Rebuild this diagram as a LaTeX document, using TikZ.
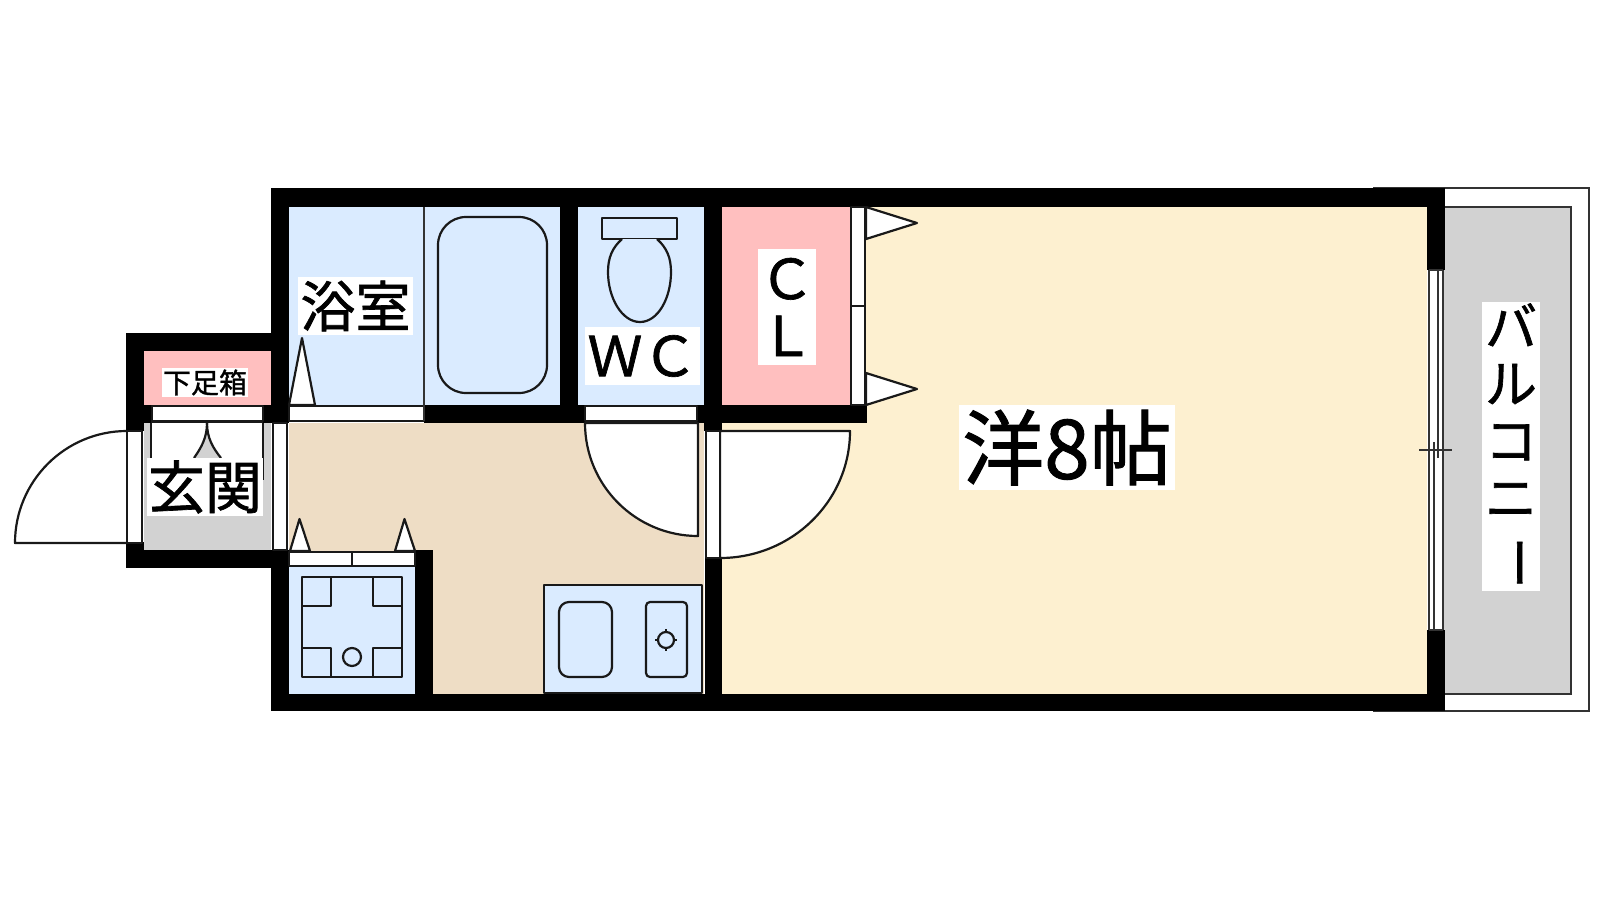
\documentclass[tikz,border=0pt]{standalone}
\usepackage{fontspec}
\setmainfont{Noto Sans CJK JP}[FakeBold=1.2]
\definecolor{bluef}{HTML}{DAEBFF}
\definecolor{pinkf}{HTML}{FFBFBF}
\definecolor{yellowf}{HTML}{FDF0D0}
\definecolor{tanf}{HTML}{EEDDC5}
\definecolor{grayf}{HTML}{D2D2D2}
\tikzset{
  wall/.style={fill=black,draw=none},
  ln/.style={draw=black!90,line width=2.2pt,line join=round},
  thin ln/.style={draw=black!80,line width=1.6pt},
  whitepart/.style={ln,fill=white},
  equip/.style={ln,fill=bluef},
  tag/.style={fill=white,inner sep=0pt,align=center,text=black}
}
\begin{document}
\begin{tikzpicture}[x=1pt,y=-1pt]
\useasboundingbox (0,0) rectangle (1600,900);
\fill[white] (0,0) rectangle (1600,900);
% floors
\fill[yellowf] (720,207) rectangle (1427,694);
\fill[bluef] (289,207) rectangle (560,405);
\fill[bluef] (578,207) rectangle (704,405);
\fill[pinkf] (722,207) rectangle (851,405);
\fill[pinkf] (144,351) rectangle (271,405);
\fill[tanf] (289,423) rectangle (704,694);
\fill[bluef] (289,566) rectangle (415,694);
\fill[grayf] (144,423) rectangle (271,550);
\fill[white] (151,423) rectangle (263,460);
\fill[grayf] (207,423) .. controls (207,438) and (201,448) .. (194,458) -- (221,458) .. controls (213,448) and (207,438) .. (207,423);
% balcony
\draw[thin ln] (1373,188) -- (1589,188) -- (1589,711) -- (1373,711);
\fill[grayf] (1444,207) rectangle (1571,694);
\draw[thin ln] (1444,207) -- (1571,207) -- (1571,694) -- (1444,694);
% walls
\fill[wall] (271,188) rectangle (1445,207);
\fill[wall] (271,694) rectangle (1445,711);
\fill[wall] (271,188) rectangle (289,423);
\fill[wall] (126,333) rectangle (289,351);
\fill[wall] (126,333) rectangle (144,431);
\fill[wall] (126,405) rectangle (152,423);
\fill[wall] (263,405) rectangle (289,423);
\fill[wall] (126,542) rectangle (144,568);
\fill[wall] (126,550) rectangle (289,568);
\fill[wall] (271,550) rectangle (289,711);
\fill[wall] (415,550) rectangle (433,711);
\fill[wall] (424,405) rectangle (867,423);
\fill[wall] (560,188) rectangle (578,423);
\fill[wall] (704,188) rectangle (722,431);
\fill[wall] (705,558) rectangle (722,711);
\fill[wall] (1427,188) rectangle (1445,270);
\fill[wall] (1427,630) rectangle (1445,711);
% genkan door and strips
\draw[ln] (127,431) arc[start angle=-90,end angle=-180,radius=112] -- (127,543);
\draw[whitepart] (127,431) rectangle (142,543);
\draw[whitepart] (152,406) rectangle (263,421);
\draw[whitepart] (273,423) rectangle (287,550);
\draw[ln] (151,423) -- (151,460);
\draw[ln] (263,423) -- (263,480);
\draw[ln] (151,422) -- (263,422);
\draw[ln] (207,423) .. controls (207,438) and (201,448) .. (194,458);
\draw[ln] (207,423) .. controls (207,438) and (213,448) .. (221,458);
% bath
\draw[whitepart] (289,405) -- (302,338) -- (315,405) -- cycle;
\draw[whitepart] (289,406) rectangle (424,421);
\draw[thin ln] (424,207) -- (424,421);
\draw[equip,rounded corners=28pt] (438,217) rectangle (547,393);
% wc
\draw[whitepart] (585,406) rectangle (697,421);
\draw[whitepart] (585,423) arc[start angle=180,end angle=90,radius=113] -- (698,423) -- cycle;
\draw[equip] (602,218) rectangle (677,239);
\draw[equip] (622,239) .. controls (612,248) and (608,258) .. (608,272) .. controls (608,298) and (622,322) .. (640,322) .. controls (658,322) and (671,298) .. (671,272) .. controls (671,258) and (667,248) .. (657,239);
% closet
\draw[whitepart] (851,207) rectangle (865,405);
\draw[ln] (851,306) -- (865,306);
\draw[whitepart] (866,207) -- (917,223) -- (866,239) -- cycle;
\draw[whitepart] (866,373) -- (917,389) -- (866,405) -- cycle;
% room door
\draw[whitepart] (720,431) -- (850,431) arc[start angle=0,end angle=90,x radius=130,y radius=127] -- cycle;
\draw[whitepart] (706,431) rectangle (720,558);
% storage
\draw[whitepart] (290,551) -- (299.5,519) -- (310,551) -- cycle;
\draw[whitepart] (395,551) -- (404.5,519) -- (415,551) -- cycle;
\draw[whitepart] (289,552) rectangle (415,566);
\draw[ln] (352,552) -- (352,566);
\draw[ln] (302,577) rectangle (402,677);
\draw[ln] (302,606) -| (331,577);
\draw[ln] (373,577) |- (402,606);
\draw[ln] (302,648) -| (331,677);
\draw[ln] (373,677) |- (402,648);
\draw[ln] (352,657) circle[radius=9];
% kitchen
\draw[equip] (544,585) rectangle (702,693);
\draw[ln,rounded corners=10pt] (559,602) rectangle (612,677);
\draw[ln,rounded corners=4pt] (646,602) rectangle (687,677);
\draw[ln] (655,640) -- (677,640) (666,629) -- (666,651);
\fill[bluef] (666,640) circle[radius=7];
\draw[ln] (666,640) circle[radius=8];
% window
\fill[white] (1429,270) rectangle (1443,630);
\draw[thin ln] (1429,270) -- (1429,630);
\draw[thin ln] (1443,270) -- (1443,630);
\draw[thin ln] (1429,270) -- (1443,270) (1429,630) -- (1443,630);
\draw[thin ln] (1438,270) -- (1438,458);
\draw[thin ln] (1434,442) -- (1434,630);
\draw[thin ln] (1419,450) -- (1452,450);
% labels
\node[tag,minimum width=216pt,minimum height=85pt,font=\fontsize{82}{84}\selectfont] (room) at (1067,447.5) {洋8帖};
\node[tag,minimum width=115pt,minimum height=58pt,font=\fontsize{55}{58}\selectfont] (bath) at (355.5,306) {浴室};
\node[tag,minimum width=115pt,minimum height=58pt,font=\fontsize{55}{58}\selectfont] (wc) at (642.5,356) {ＷＣ};
\node[tag,minimum width=58pt,minimum height=116pt,font=\fontsize{55}{57}\selectfont] (cl) at (787,307) {Ｃ\\Ｌ};
\node[tag,minimum width=116pt,minimum height=58pt,font=\fontsize{57}{58}\selectfont] (entry) at (205,487) {玄関};
\node[tag,minimum width=86pt,minimum height=29pt,font=\fontsize{28}{29}\selectfont] (shoe) at (205,382.5) {下足箱};
\node[tag,minimum width=58pt,minimum height=289pt,font=\fontsize{52}{57}\selectfont] (balcony) at (1511,446) {バ\\ル\\コ\\ニ\\\rotatebox[origin=c]{-90}{ー}};
\end{tikzpicture}
\end{document}
